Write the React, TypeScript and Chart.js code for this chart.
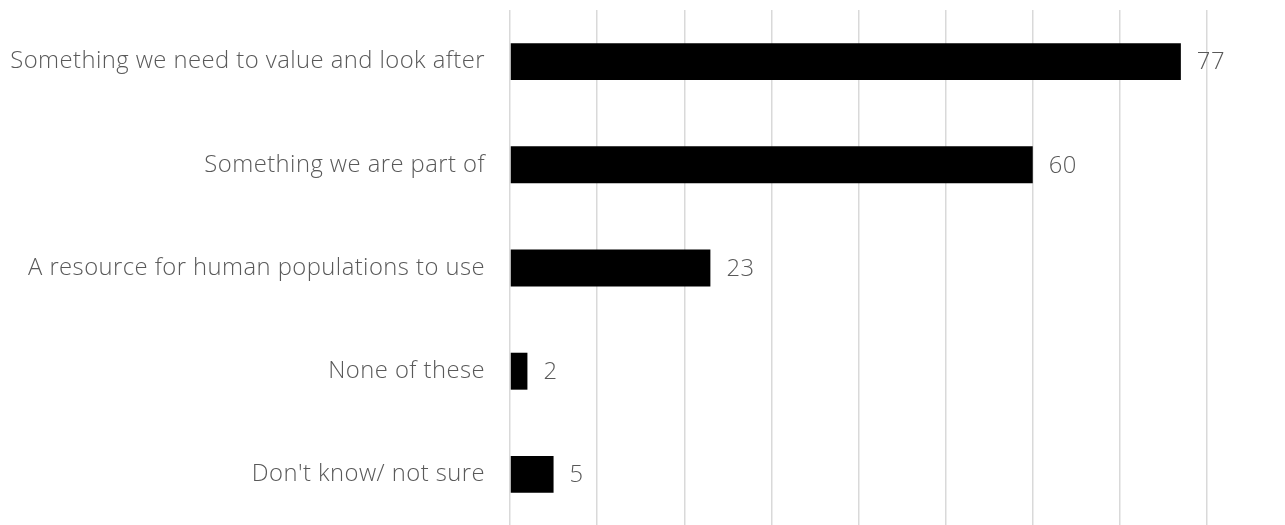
import React, { useEffect, useRef } from "react";
import { Chart, registerables } from "chart.js";

Chart.register(...registerables);

const categories = [
  "Something we need to value and look after",
  "Something we are part of",
  "A resource for human populations to use",
  "None of these",
  "Don't know/ not sure",
];
const values = [77, 60, 23, 2, 5];
const axisMax = 80;
const axisStep = 10;

const FONT_FAMILY = "'Open Sans', sans-serif";
const FONT_SIZE = 23.8;
const FONT_WEIGHT = 300;
const TEXT_COLOR = "#595959";
const LETTER_SPACING = "0.45px";

const letterSpacingPlugin = {
  id: "letterSpacing",
  beforeDraw(chart: any) {
    chart.ctx.letterSpacing = LETTER_SPACING;
  },
};

const valueLabels = {
  id: "valueLabels",
  afterDatasetsDraw(chart: any) {
    const ctx = chart.ctx;
    const meta = chart.getDatasetMeta(0);
    ctx.save();
    ctx.letterSpacing = LETTER_SPACING;
    ctx.font = `${FONT_WEIGHT} ${FONT_SIZE}px ${FONT_FAMILY}`;
    ctx.fillStyle = TEXT_COLOR;
    ctx.textAlign = "left";
    ctx.textBaseline = "middle";
    meta.data.forEach((bar: any, i: number) => {
      ctx.fillText(String(values[i]), bar.x + 16, bar.y + 1);
    });
    ctx.restore();
  },
};

export default function App() {
  const ref = useRef<HTMLCanvasElement>(null);
  useEffect(() => {
    document.body.style.margin = "0";
    const chart = new Chart(ref.current!, {
      type: "bar",
      data: {
        labels: categories,
        datasets: [
          {
            data: values,
            backgroundColor: "#000000",
            borderColor: "#000000",
            borderWidth: 0,
            barPercentage: 0.358,
            categoryPercentage: 1,
          },
        ],
      },
      options: {
        indexAxis: "y",
        responsive: false,
        animation: false,
        layout: { padding: { top: 10, right: 78, bottom: 0, left: 0 } },
        plugins: {
          legend: { display: false },
          tooltip: { enabled: false },
        },
        scales: {
          x: {
            min: 0,
            max: axisMax,
            ticks: { display: false, stepSize: axisStep },
            grid: { color: "#d9d9d9", lineWidth: 1.5, drawTicks: false },
            border: { display: false },
            afterFit(scale: any) {
              scale.height = 0;
              scale.paddingLeft = 0;
              scale.paddingRight = 0;
            },
          },
          y: {
            grid: { display: false, drawTicks: false },
            border: { display: false },
            ticks: {
              color: TEXT_COLOR,
              font: { family: FONT_FAMILY, size: FONT_SIZE, weight: FONT_WEIGHT },
              padding: 25,
            },
            afterFit(scale: any) {
              scale.width = 510;
              scale.paddingTop = 0;
              scale.paddingBottom = 0;
            },
          },
        },
      },
      plugins: [letterSpacingPlugin, valueLabels],
    });
    return () => chart.destroy();
  }, []);
  return <canvas ref={ref} width={1285} height={526} style={{ display: "block" }} />;
}
